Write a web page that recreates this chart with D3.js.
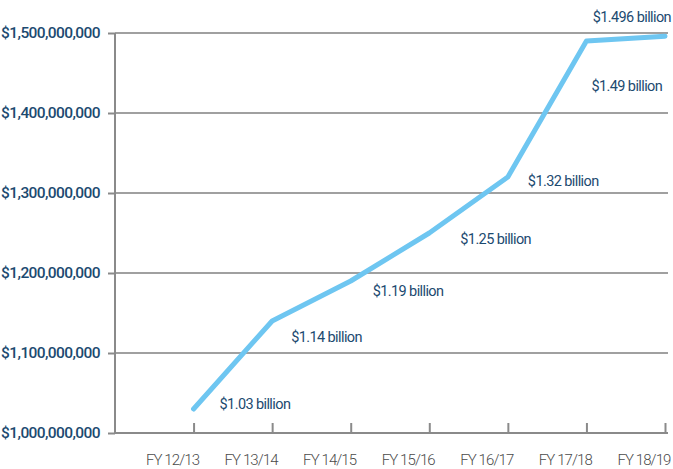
<!DOCTYPE html>
<html>
<head>
<meta charset="utf-8">
<script src="https://cdn.jsdelivr.net/npm/d3@7"></script>
<style>
  body { margin: 0; background: #fff; }
  text { font-family: Roboto, "DejaVu Sans", sans-serif; }
</style>
</head>
<body>
<div id="wrapper"></div>
<script>
// chart data
const years = ["FY 12/13", "FY 13/14", "FY 14/15", "FY 15/16", "FY 16/17", "FY 17/18", "FY 18/19"];
const budget = [1030000000, 1140000000, 1190000000, 1250000000, 1320000000, 1490000000, 1496000000];
const valueLabels = ["$1.03 billion", "$1.14 billion", "$1.19 billion", "$1.25 billion", "$1.32 billion", "$1.49 billion", "$1.496 billion"];
const yTicks = [1000000000, 1100000000, 1200000000, 1300000000, 1400000000, 1500000000];

// where each value label sits relative to its point
const labelOffset = [[26, -5], [19, 16], [22, 10], [31, 6], [20, 4], [5, 45], [6, -19]];

const dimension = {
    width: 673,
    height: 469,
    margin: { top: 33, left: 115, right: 5, bottom: 36 }
};
dimension.boundedWidth = dimension.width - dimension.margin.left - dimension.margin.right;
dimension.boundedHeight = dimension.height - dimension.margin.top - dimension.margin.bottom;

const svg = d3.select("#wrapper")
    .append("svg")
    .attr("width", dimension.width)
    .attr("height", dimension.height);

const bounded = svg.append("g")
    .attr("transform", `translate(${dimension.margin.left},${dimension.margin.top})`);

// one empty slot before the first year, like the original
const xScaler = d3.scaleLinear()
    .domain([-1, years.length - 1])
    .range([0, 550]);

const yScaler = d3.scaleLinear()
    .domain([1000000000, 1500000000])
    .range([dimension.boundedHeight, 0]);

// gridlines
bounded.append("g")
    .selectAll("line")
    .data(yTicks.slice(1))
    .join("line")
    .attr("x1", 0)
    .attr("x2", 553)
    .attr("y1", d => yScaler(d))
    .attr("y2", d => yScaler(d))
    .attr("stroke", "#a0a0a0")
    .attr("stroke-width", 2);

// y axis
const yAxis = bounded.append("g")
    .call(d3.axisLeft(yScaler)
        .tickValues(yTicks)
        .tickSize(7)
        .tickPadding(8)
        .tickFormat(d => "$" + d3.format(",")(d)));
yAxis.select(".domain").attr("stroke", "#8a8a8a").attr("stroke-width", 2)
    .attr("d", `M0,${dimension.boundedHeight}V0`);
yAxis.selectAll(".tick line").attr("stroke", "#8a8a8a").attr("stroke-width", 2);
yAxis.selectAll(".tick text")
    .attr("fill", "#1c4a70")
    .style("font-size", "15.5px")
    .style("font-weight", 500)
    .style("letter-spacing", "-0.6px");

// x axis, labels end just right of their tick
const xAxis = bounded.append("g")
    .attr("transform", `translate(0,${dimension.boundedHeight})`)
    .call(d3.axisBottom(xScaler)
        .tickValues(d3.range(years.length))
        .tickSize(-10)
        .tickPadding(21)
        .tickFormat(i => years[i]));
xAxis.select(".domain").attr("stroke", "#8a8a8a").attr("stroke-width", 2)
    .attr("d", `M0,0H553`);
xAxis.selectAll(".tick line").attr("stroke", "#8a8a8a").attr("stroke-width", 2);
xAxis.selectAll(".tick text")
    .attr("text-anchor", "end")
    .attr("x", 5)
    .attr("fill", "#4a4a4a")
    .style("font-size", "15px")
    .style("font-weight", 300)
    .style("letter-spacing", "-0.9px");

// line
const line = d3.line()
    .x((d, i) => xScaler(i))
    .y(d => yScaler(d));

bounded.append("path")
    .datum(budget)
    .attr("d", line)
    .attr("fill", "none")
    .attr("stroke", "#6ec6f1")
    .attr("stroke-width", 5)
    .attr("stroke-linecap", "round")
    .attr("stroke-linejoin", "round");

// value labels
bounded.append("g")
    .selectAll("text")
    .data(budget)
    .join("text")
    .attr("x", (d, i) => xScaler(i) + labelOffset[i][0])
    .attr("y", (d, i) => yScaler(d) + labelOffset[i][1])
    .attr("text-anchor", (d, i) => i === budget.length - 1 ? "end" : "start")
    .attr("dy", "0.35em")
    .attr("fill", "#1c4a70")
    .style("font-size", "14.5px")
    .style("letter-spacing", "-0.6px")
    .text((d, i) => valueLabels[i]);
</script>
</body>
</html>
